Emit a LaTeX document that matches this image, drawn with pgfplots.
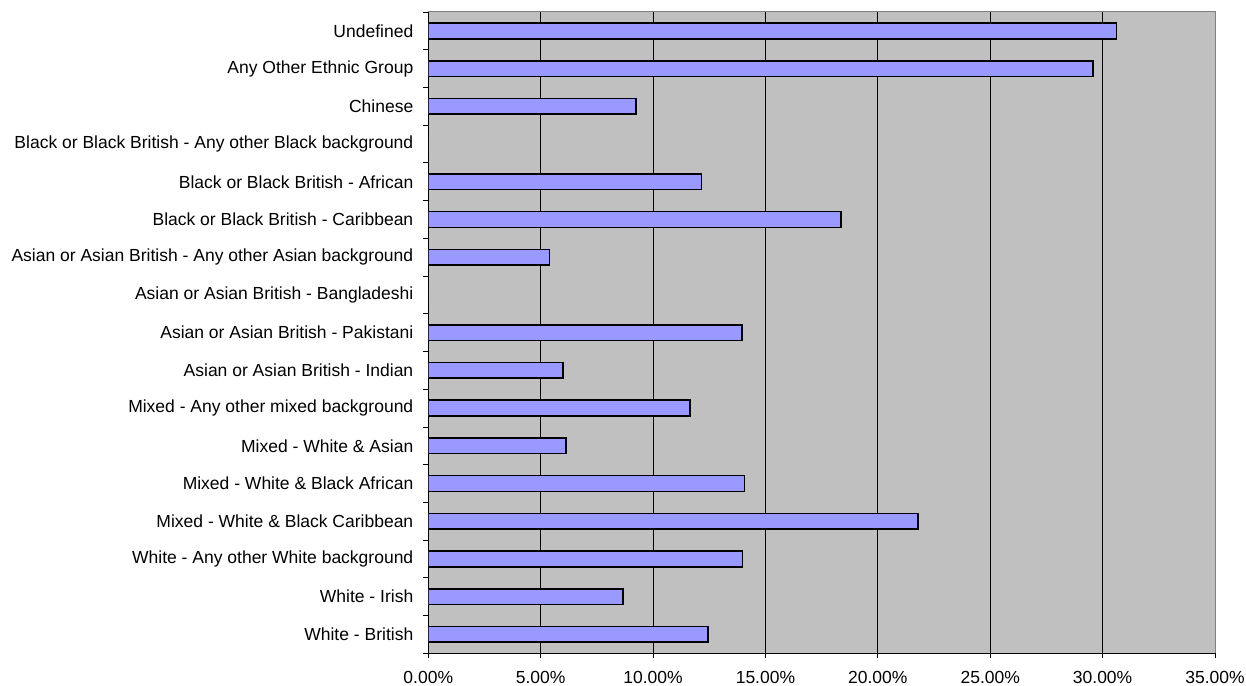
\documentclass[border=0pt]{standalone}
\usepackage{fontspec}
\setmainfont{Liberation Sans}
\usepackage{pgfplots}
\pgfplotsset{compat=1.18}
\definecolor{barfill}{HTML}{9999FF}
\definecolor{plotbg}{HTML}{C0C0C0}
\definecolor{frame}{HTML}{808080}
\begin{document}
\fontsize{17.5}{21}\selectfont
\begin{tikzpicture}
\useasboundingbox (-428.3pt,-31.7pt) rectangle (817.7pt,653.3pt);
\begin{axis}[
  at={(0pt,0pt)}, anchor=south west,
  scale only axis,
  width=786.7pt, height=641.3pt,
  xbar, bar width=15.7pt,
  xmin=0, xmax=35, ymin=-0.5, ymax=16.5,
  axis background/.style={fill=plotbg, draw=frame, line width=1pt},
  axis x line*=bottom, axis y line*=left,
  axis line style={black, line width=0.9pt, -},
  xtick={0,5,10,15,20,25,30},
  extra x ticks={35},
  extra x tick style={grid=none},
  xmajorgrids,
  major grid style={black, line width=0.7pt},
  tick align=outside,
  major tick length=5pt,
  tick style={black, line width=0.8pt},
  xticklabel={\pgfmathprintnumber[fixed,fixed zerofill,precision=2]{\tick}\%},
  /pgf/number format/assume math mode=true,
  xticklabel style={font=\fontsize{17.5}{21}\selectfont, yshift=-7pt},
  ytick={0,...,16},
  ytick style={draw=none},
  yticklabels={
    White - British,
    White - Irish,
    White - Any other White background,
    Mixed - White \& Black Caribbean,
    Mixed - White \& Black African,
    Mixed - White \& Asian,
    Mixed - Any other mixed background,
    Asian or Asian British - Indian,
    Asian or Asian British - Pakistani,
    Asian or Asian British - Bangladeshi,
    Asian or Asian British - Any other Asian background,
    Black or Black British - Caribbean,
    Black or Black British - African,
    Black or Black British - Any other Black background,
    Chinese,
    Any Other Ethnic Group,
    Undefined},
  yticklabel style={font=\fontsize{17.5}{21}\selectfont, xshift=-4pt},
  extra y ticks={-0.5,0.5,1.5,2.5,3.5,4.5,5.5,6.5,7.5,8.5,9.5,10.5,11.5,12.5,13.5,14.5,15.5,16.5},
  extra y tick labels={},
  extra y tick style={ytick style={draw=black}, major tick length=5pt},
]
\addplot[fill=barfill, draw=black, line width=1.6pt] coordinates {
  (12.44,0)
  (8.65,1)
  (13.97,2)
  (21.79,3)
  (14.07,4)
  (6.13,5)
  (11.63,6)
  (5.98,7)
  (13.95,8)
  (0,9)
  (5.39,10)
  (18.37,11)
  (12.15,12)
  (0,13)
  (9.23,14)
  (29.56,15)
  (30.62,16)
};
\end{axis}
\end{tikzpicture}
\end{document}
